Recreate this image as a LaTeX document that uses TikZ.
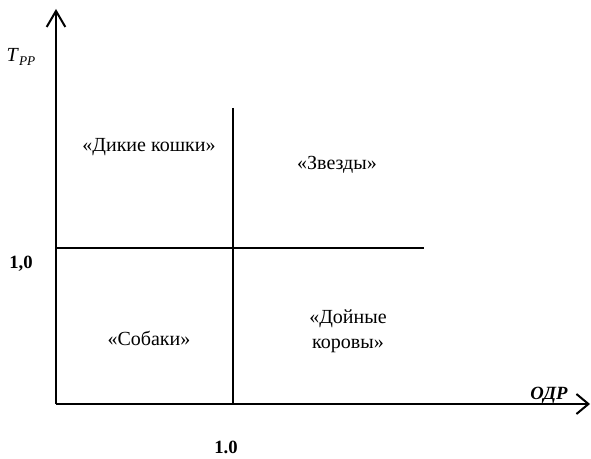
\documentclass[tikz,border=0pt]{standalone}
\usepackage{fontspec}
\setmainfont{Liberation Serif}
\usetikzlibrary{arrows.meta}
\begin{document}
\begin{tikzpicture}[x=0.75pt,y=-0.75pt,
  axis/.style={line width=1.5pt},
  divline/.style={line width=1.5pt},
  lbl/.style={inner sep=0pt,font=\fontsize{15}{19}\selectfont,align=center},
  tick/.style={inner sep=0pt,font=\fontsize{14}{16}\selectfont\bfseries},
  barbv/.style={-{Straight Barb[length=12pt,width=14pt,line width=1.5pt]}},
  barbh/.style={-{Straight Barb[length=9pt,width=15pt,line width=1.5pt]}}]
\useasboundingbox (0,0) rectangle (591,459);
\coordinate (O) at (56,404);
\coordinate (ytop) at (56,9);
\coordinate (xend) at (590,404);
\coordinate (dtop) at (233,108);
\coordinate (dbot) at (233,404);
\coordinate (hl) at (56,248);
\coordinate (hr) at (424,248);
\draw[axis,barbv] (O) -- (ytop);
\draw[axis,barbh] (O) -- (xend);
\draw[divline] (dtop) -- (dbot);
\draw[divline] (hl) -- (hr);
\node[inner sep=0pt,font=\fontsize{15}{18}\selectfont] (ylab) at (21,57) {\textit{T}\raisebox{-0.35ex}{\fontsize{10}{11}\selectfont\textit{PP}}};
\node[inner sep=0pt,font=\fontsize{14}{16}\selectfont\bfseries\itshape] (xlab) at (549,395) {ОДР};
\node[tick] (y1) at (21,264) {1,0};
\node[tick] (x1) at (226,447) {1.0};
\node[lbl] (wild) at (149,147) {«Дикие кошки»};
\node[lbl] (stars) at (337,165) {«Звезды»};
\node[lbl] (dogs) at (149,338) {«Собаки»};
\node[lbl] (cows) at (348,331) {«Дойные\\коровы»};
\end{tikzpicture}
\end{document}
